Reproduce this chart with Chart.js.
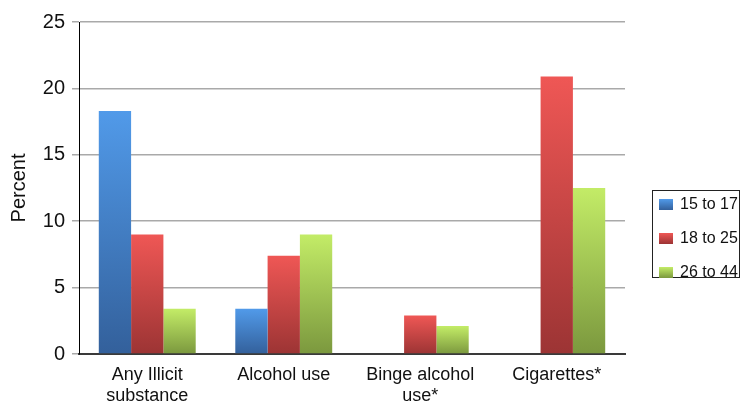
<!DOCTYPE html>
<html>
<head>
<meta charset="utf-8">
<title>Percent by age group</title>
<script src="https://cdn.jsdelivr.net/npm/chart.js@4.4.1/dist/chart.umd.min.js"></script>
<style>
  html, body { margin: 0; padding: 0; background: #fff; }
  #wrap { width: 741px; height: 402px; position: relative; }
</style>
</head>
<body>
<div id="wrap"><canvas id="chart"></canvas></div>
<script>
// 항목 및 연령대별 값 (%)
const categories = [['Any Illicit', 'substance'], 'Alcohol use', ['Binge alcohol', 'use*'], 'Cigarettes*'];
const ageLabels = ['15 to 17', '18 to 25', '26 to 44'];
const age15to17 = [18.3, 3.4, null, null];
const age18to25 = [9.0, 7.4, 2.9, 20.9];
const age26to44 = [3.4, 9.0, 2.1, 12.5];
const yTicks = [0, 5, 10, 15, 20, 25];

// 막대 그라데이션 색 (위, 아래)
const colorPairs = [
  ['#519ae9', '#33609b'],
  ['#ef5755', '#9c3434'],
  ['#c3ec67', '#7b983e']
];

const FONT = '"Liberation Sans", Arial, Helvetica, sans-serif';

// 막대마다 위쪽이 밝고 아래쪽이 어두운 그라데이션
function barGradient(pair) {
  return function(context) {
    const chart = context.chart;
    const yScale = chart.scales.y;
    if (!yScale || context.raw == null) return pair[0];
    const top = yScale.getPixelForValue(context.raw);
    const bottom = yScale.getPixelForValue(0);
    if (!isFinite(top) || !isFinite(bottom) || top === bottom) return pair[0];
    const g = chart.ctx.createLinearGradient(0, top, 0, bottom);
    g.addColorStop(0, pair[0]);
    g.addColorStop(1, pair[1]);
    return g;
  };
}

// 오른쪽 범례 (테두리 상자)
const boxLegend = {
  id: 'boxLegend',
  afterDraw(chart) {
    const ctx = chart.ctx;
    const left = 652, top = 190, right = 739, bottom = 277;
    ctx.save();
    ctx.strokeStyle = '#222';
    ctx.lineWidth = 1;
    ctx.strokeRect(left + 0.5, top + 0.5, right - left, bottom - top);
    ctx.font = '16px ' + FONT;
    ctx.textBaseline = 'middle';
    chart.data.datasets.forEach((ds, i) => {
      const cy = 204 + i * 34;
      const g = ctx.createLinearGradient(0, cy - 5, 0, cy + 6);
      g.addColorStop(0, colorPairs[i][0]);
      g.addColorStop(1, colorPairs[i][1]);
      ctx.fillStyle = g;
      ctx.fillRect(659, cy - 5, 14, 11);
      ctx.fillStyle = '#111';
      ctx.fillText(ds.label, 680, cy + 1);
    });
    ctx.restore();
  }
};

const seriesValues = [age15to17, age18to25, age26to44];

new Chart(document.getElementById('chart'), {
  type: 'bar',
  data: {
    labels: categories,
    datasets: seriesValues.map((values, i) => ({
      label: ageLabels[i],
      data: values,
      backgroundColor: barGradient(colorPairs[i]),
      borderWidth: 0,
      categoryPercentage: 0.71,
      barPercentage: 1.0
    }))
  },
  options: {
    responsive: true,
    maintainAspectRatio: false,
    animation: false,
    layout: { padding: { left: 0, right: 116, top: 22, bottom: 0 } },
    plugins: {
      legend: { display: false },
      tooltip: { enabled: false }
    },
    scales: {
      x: {
        z: 1,
        grid: { display: false, drawTicks: false },
        border: { display: true, color: '#3a3a3a', width: 2 },
        ticks: {
          color: '#111',
          padding: 10,
          maxRotation: 0,
          autoSkip: false,
          font: { family: FONT, size: 18, lineHeight: 1.2 }
        },
        afterFit(scale) { scale.height = 48; }
      },
      y: {
        min: 0,
        max: 25,
        afterBuildTicks(scale) { scale.ticks = yTicks.map(v => ({ value: v })); },
        grid: {
          color: ctx => ctx.index === 0 ? 'rgba(0,0,0,0)' : '#a9a9a9',
          lineWidth: 1.5,
          tickLength: 7,
          tickColor: '#a9a9a9'
        },
        border: { display: true, color: '#000', width: 1 },
        ticks: {
          color: '#111',
          padding: 7,
          font: { family: FONT, size: 20 }
        },
        title: {
          display: true,
          text: 'Percent',
          color: '#111',
          padding: { top: 7, bottom: 0 },
          font: { family: FONT, size: 20 }
        },
        afterFit(scale) { scale.width = 79; }
      }
    }
  },
  plugins: [boxLegend]
});
</script>
</body>
</html>
